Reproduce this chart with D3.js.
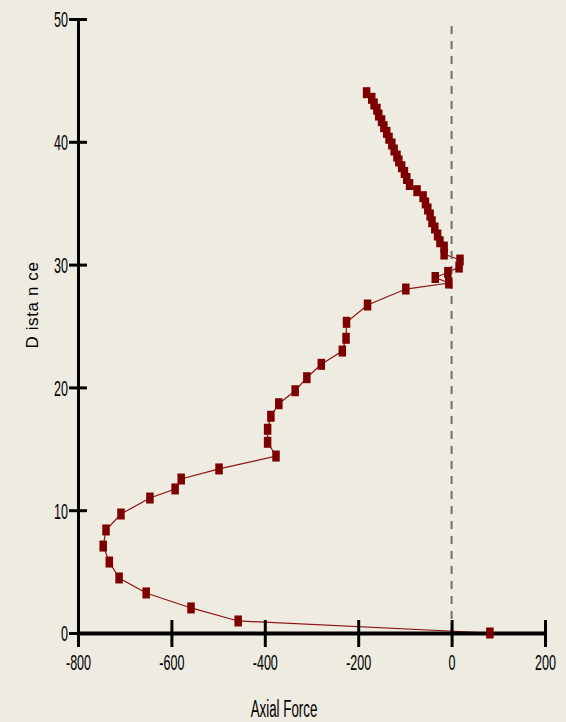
<!DOCTYPE html>
<html>
<head>
<meta charset="utf-8">
<script src="https://cdn.jsdelivr.net/npm/d3@7"></script>
<style>
  html, body { margin: 0; padding: 0; background: #eeebe0; }
  svg { display: block; }
  text { font-family: "Liberation Sans", Arial, sans-serif; fill: #000; }
</style>
</head>
<body>
<svg id="chart" width="566" height="722"></svg>
<script>
// ---- data ----
const axialForce = [82, -457, -558, -654, -712, -733, -746, -740, -708, -646,
  -592, -579, -498, -376, -394, -394, -387, -370, -335, -310,
  -279, -234, -226, -225, -180, -98, -6, -35, -8, 16,
  18, -16, -16, -25, -30, -36, -42, -46, -51, -56,
  -61, -74, -90, -96, -101, -107, -113, -117, -123, -128,
  -134, -139, -145, -150, -156, -160, -166, -171, -182];
const distance = [0, 0.98, 2.04, 3.26, 4.48, 5.78, 7.08, 8.39, 9.69, 10.99,
  11.73, 12.54, 13.36, 14.41, 15.53, 16.59, 17.65, 18.67, 19.73, 20.79,
  21.88, 22.96, 24.0, 25.3, 26.71, 28.01, 28.5, 28.95, 29.36, 29.8,
  30.37, 30.86, 31.43, 31.86, 32.41, 32.98, 33.49, 34.04, 34.53, 35.02,
  35.53, 36.02, 36.52, 37.01, 37.5, 37.97, 38.44, 38.84, 39.33, 39.82,
  40.29, 40.77, 41.23, 41.72, 42.18, 42.65, 43.08, 43.54, 44.0];
const xTicks = [-800, -600, -400, -200, 0, 200];
const yTicks = [0, 10, 20, 30, 40, 50];
const xTitle = "Axial Force";
const yTitle = "D ista n ce";

const points = axialForce.map((f, i) => ({ f, d: distance[i] }));

const svg = d3.select("#chart");
const x = d3.scaleLinear().domain([-800, 200]).range([78, 545]);
const y = d3.scaleLinear().domain([0, 50]).range([633, 19]);
const fmt = d => String(d);

// data line
svg.append("path")
  .datum(points)
  .attr("fill", "none")
  .attr("stroke", "#8b1414")
  .attr("stroke-width", 1.2)
  .attr("d", d3.line().x(p => x(p.f)).y(p => y(p.d)));

// dashed zero line
svg.append("line")
  .attr("x1", x(0)).attr("x2", x(0))
  .attr("y1", 26).attr("y2", y(0))
  .attr("stroke", "#707070")
  .attr("stroke-width", 2)
  .attr("stroke-dasharray", "8,7");

const SX = 0.57;

// x axis
const gx = svg.append("g")
  .attr("transform", `translate(0,${y(0)})`)
  .call(d3.axisBottom(x).tickValues(xTicks).tickSize(14).tickSizeOuter(0).tickFormat(fmt));
gx.select(".domain").attr("stroke", "#000").attr("stroke-width", 4);
gx.selectAll(".tick line").attr("stroke", "#000").attr("stroke-width", 3).attr("y1", -13).attr("y2", 14);
gx.selectAll(".tick text")
  .attr("y", 37).attr("dy", 0)
  .attr("font-size", 22)
  .attr("font-family", "Liberation Sans, Arial, sans-serif")
  .attr("transform", `scale(${SX},1)`);

// y axis
const gy = svg.append("g")
  .attr("transform", `translate(${x(-800)},0)`)
  .call(d3.axisLeft(y).tickValues(yTicks).tickSize(9).tickSizeOuter(0).tickFormat(fmt));
gy.select(".domain").attr("stroke", "#000").attr("stroke-width", 3);
gy.selectAll(".tick line").attr("stroke", "#000").attr("stroke-width", 3).attr("x1", 9).attr("x2", -9);
gy.selectAll(".tick text")
  .attr("x", 0).attr("dy", "0.36em")
  .attr("font-size", 22)
  .attr("font-family", "Liberation Sans, Arial, sans-serif")
  .attr("text-anchor", "end")
  .attr("transform", `translate(-10,0) scale(${SX},1)`);

// markers
svg.append("g")
  .selectAll("rect")
  .data(points)
  .join("rect")
  .attr("x", p => x(p.f) - 3.75)
  .attr("y", p => y(p.d) - 5.5)
  .attr("width", 7.5)
  .attr("height", 11)
  .attr("fill", "#7d0000");

// axis titles
svg.append("text")
  .attr("transform", `translate(284,717) scale(0.58,1)`)
  .attr("text-anchor", "middle")
  .attr("font-size", 23)
  .text(xTitle);

svg.append("text")
  .attr("transform", `translate(38,305) rotate(-90)`)
  .attr("text-anchor", "middle")
  .attr("font-size", 17)
  .attr("letter-spacing", 0.6)
  .text(yTitle);
</script>
</body>
</html>
